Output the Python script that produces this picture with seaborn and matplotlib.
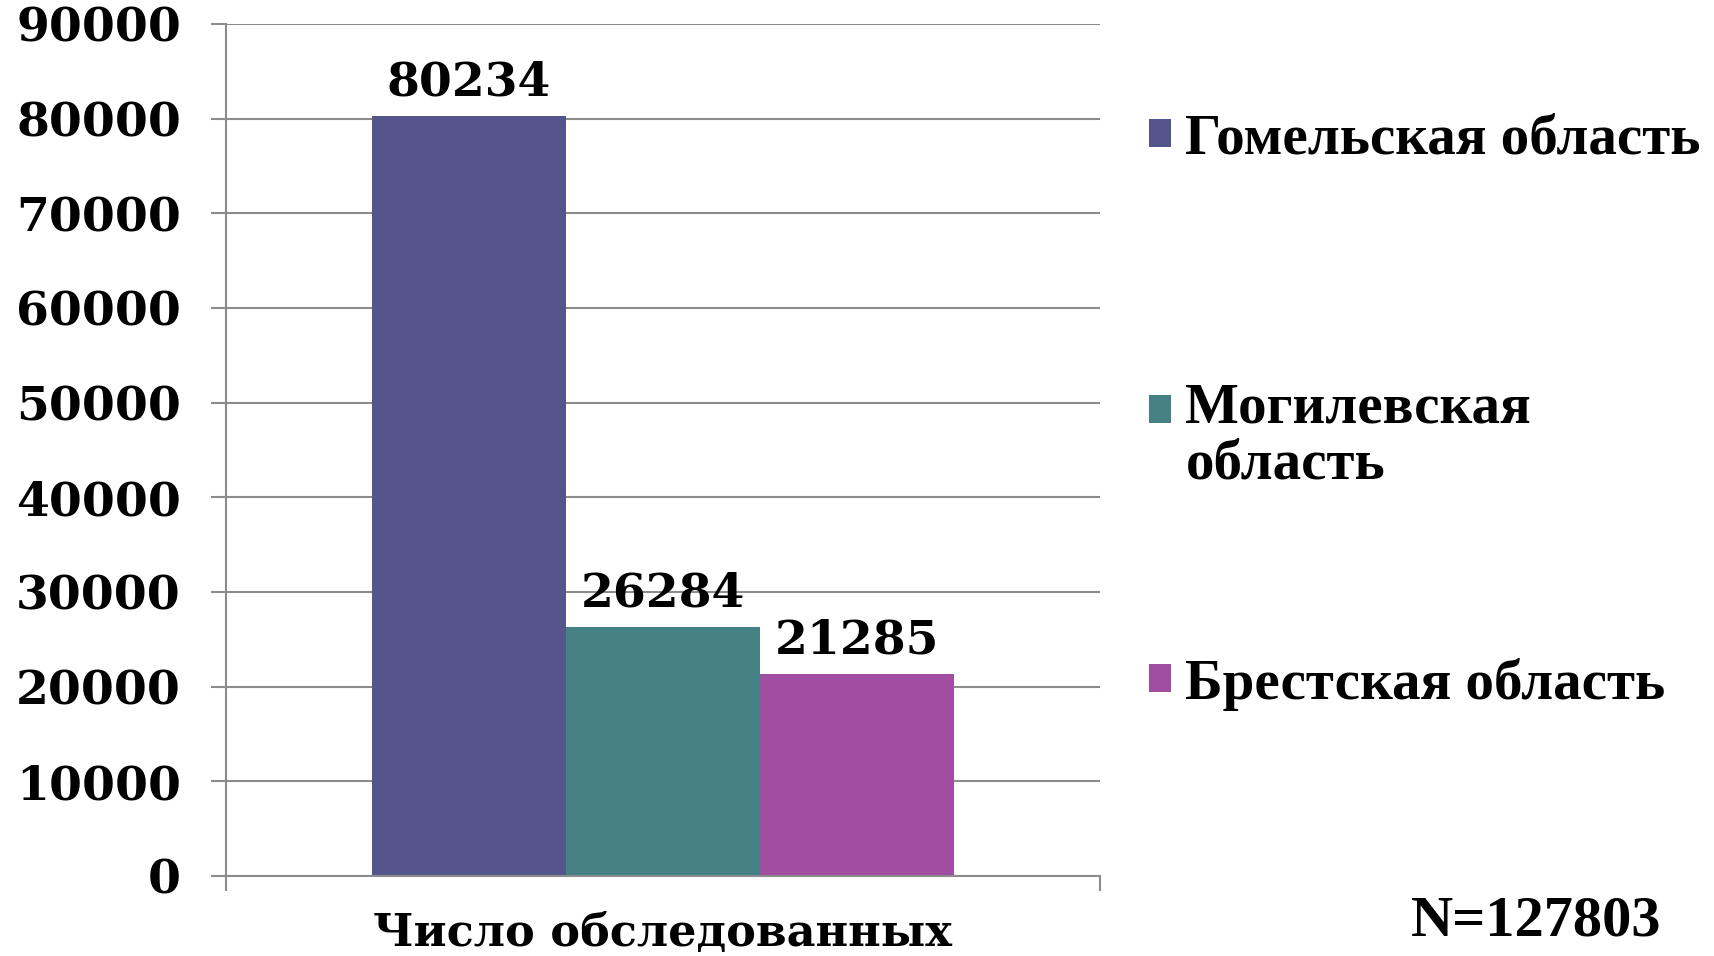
import matplotlib
matplotlib.use("Agg")
import matplotlib.pyplot as plt
import seaborn as sns
import pandas as pd
from matplotlib.ticker import FixedLocator

# ---- data ----
categories = ["Число обследованных"]
regions = ["Гомельская область", "Могилевская область", "Брестская область"]
legend_labels = ["Гомельская область", "Могилевская\nобласть", "Брестская область"]
values = [80234, 26284, 21285]
colors = ["#54558A", "#448084", "#A04DA2"]
y_ticks = [0, 10000, 20000, 30000, 40000, 50000, 60000, 70000, 80000, 90000]
total_label = "N=127803"

df = pd.DataFrame({"cat": categories * len(regions), "region": regions, "value": values})

sns.set_theme(style="white")
plt.rcParams["font.family"] = ["DejaVu Serif"]
plt.rcParams["font.weight"] = "bold"
plt.rcParams["text.color"] = "black"
plt.rcParams["xtick.labelcolor"] = "black"
plt.rcParams["ytick.labelcolor"] = "black"

fig = plt.figure(figsize=(17.15, 9.56), dpi=100)
ax = fig.add_axes([0.1318, 0.0837, 0.5095, 0.8912])

sns.barplot(data=df, x="cat", y="value", hue="region", hue_order=regions,
            palette=colors, width=2 / 3, saturation=1, ax=ax, legend=False,
            linewidth=0, edgecolor="none")

ax.set_xlim(-0.5, 0.5)
ax.set_ylim(0, 90000)
ax.yaxis.set_major_locator(FixedLocator(y_ticks))
ax.set_yticklabels([str(t) for t in y_ticks])
ax.set_xlabel("")
ax.set_ylabel("")

grid_c = "#8c8c8c"
ax.set_axisbelow(True)
ax.yaxis.grid(True, color=grid_c, linewidth=1.5)
ax.xaxis.grid(False)
for s in ["top", "right"]:
    ax.spines[s].set_visible(False)
for s in ["left", "bottom"]:
    ax.spines[s].set_color(grid_c)
    ax.spines[s].set_linewidth(1.5)

ax.tick_params(axis="y", which="major", length=10.5, width=1.5, color=grid_c,
               pad=22, labelsize=34, left=True, labelcolor="black")
for lab in ax.get_yticklabels():
    lab.set_fontweight("bold")
ax.xaxis.set_minor_locator(FixedLocator([-0.5, 0.5]))
ax.tick_params(axis="x", which="minor", length=10.5, width=1.5, color=grid_c, bottom=True)
ax.tick_params(axis="x", which="major", length=0, pad=26, labelsize=32, labelcolor="black")
for lab in ax.get_xticklabels():
    lab.set_fontweight("bold")

for c in ax.containers:
    ax.bar_label(c, fmt="%d", padding=8, fontsize=34, fontweight="bold", color="black")

legend_font = {"family": "Liberation Serif", "weight": "bold", "size": 41}
legend_y = [0.854, 0.5429, 0.2845]
for i, (lab, yy) in enumerate(zip(legend_labels, legend_y)):
    leg = fig.legend(handles=[ax.containers[i]], labels=[lab], loc="center left",
                     bbox_to_anchor=(1149 / 1715, yy), frameon=False, prop=legend_font,
                     handlelength=0.38, handleheight=0.38, handletextpad=0.26,
                     borderpad=0, borderaxespad=0, labelcolor="black")
    if "\n" in lab:
        for t in leg.texts:
            t.set_linespacing(1.1)
        try:
            hp = leg._legend_handle_box.get_children()[0].get_children()[0]
            hp.align = "top"
            da = hp.get_children()[0]
            da.height += 8.5
        except Exception:
            pass

fig.text(1536 / 1715, 1 - 921 / 956, total_label, ha="center", va="center",
         fontfamily="Liberation Serif", fontweight="bold", fontsize=42, color="black")

fig.savefig("out.png", dpi=100)
